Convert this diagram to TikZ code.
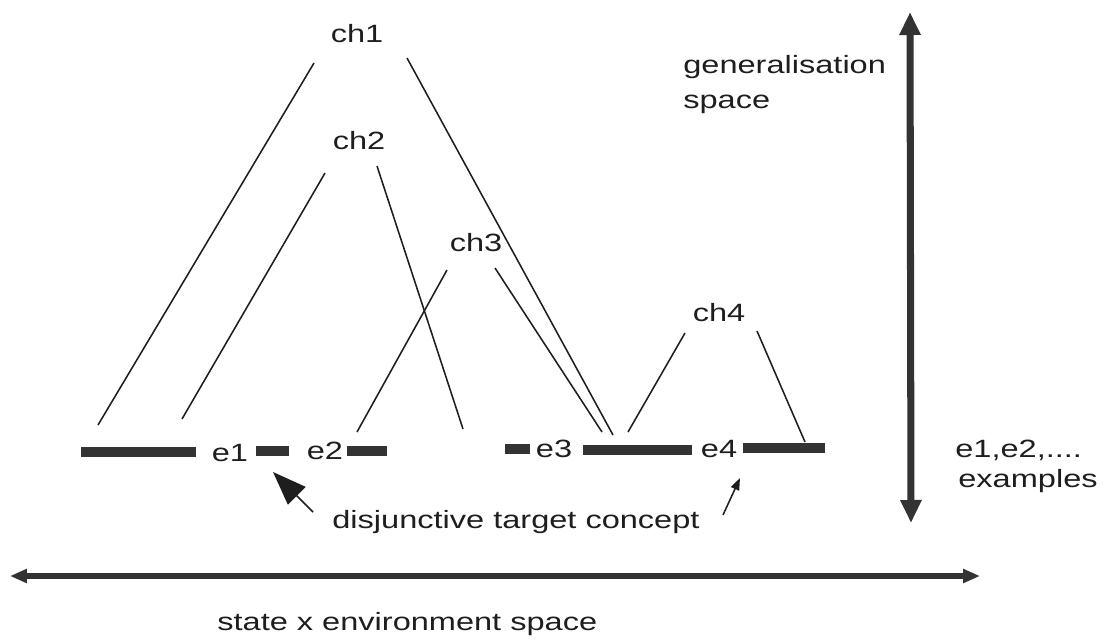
\documentclass[tikz,border=0pt]{standalone}
\usepackage{fontspec}
\setmainfont{Liberation Sans}
\usetikzlibrary{arrows.meta}
\definecolor{ink}{HTML}{1E1E1E}
\definecolor{barc}{HTML}{333333}
\tikzset{
  lbl/.style={inner sep=0pt, text=ink, font=\fontsize{17.8}{21}\selectfont, xscale=1.3},
  bar/.style={line width=0.27cm, barc},
  link/.style={line width=1.1pt, ink},
}

\begin{document}
\begin{tikzpicture}[x=0.025cm, y=-0.025cm]
        \useasboundingbox (0,0) rectangle (1105,640);

        % concept hypotheses
        \node[lbl] (ch1) at (357,34) {ch1};
        \node[lbl] (ch2) at (359,141) {ch2};
        \node[lbl] (ch3) at (476,243) {ch3};
        \node[lbl] (ch4) at (719,313) {ch4};

        % examples along the bottom
        \draw[bar] (81,452) -- (196,452);
        \node[lbl] (e1) at (230,453) {e1};
        \draw[bar] (256,451) -- (289,451);
        \node[lbl] (e2) at (325,451) {e2};
        \draw[bar] (347,451) -- (387,451);
        \draw[bar] (505,449) -- (530,449);
        \node[lbl] (e3) at (554,449) {e3};
        \draw[bar] (583,450) -- (692,450);
        \node[lbl] (e4) at (719,449) {e4};
        \draw[bar] (743,448) -- (825,448);

        % ends of the hypothesis lines
        \coordinate (ch1a) at (314,63);  \coordinate (ch1b) at (98,425);
        \coordinate (ch1c) at (407,58);  \coordinate (ch1d) at (613,435);
        \coordinate (ch2a) at (325,173); \coordinate (ch2b) at (182,419);
        \coordinate (ch2c) at (377,166); \coordinate (ch2d) at (463,429);
        \coordinate (ch3a) at (447,270); \coordinate (ch3b) at (357,432);
        \coordinate (ch3c) at (495,268); \coordinate (ch3d) at (602,432);
        \coordinate (ch4a) at (685,333); \coordinate (ch4b) at (628,432);
        \coordinate (ch4c) at (757,331); \coordinate (ch4d) at (805,442);

        \draw[link] (ch1a) -- (ch1b);
        \draw[link] (ch1c) -- (ch1d);
        \draw[link] (ch2a) -- (ch2b);
        \draw[link] (ch2c) -- (ch2d);
        \draw[link] (ch3a) -- (ch3b);
        \draw[link] (ch3c) -- (ch3d);
        \draw[link] (ch4a) -- (ch4b);
        \draw[link] (ch4c) -- (ch4d);

        % target concept
        \node[lbl, anchor=base west] (dtc) at (332,528) {disjunctive target concept};
        \coordinate (tipA) at (273,472);
        \coordinate (tipB) at (740,478);
        \draw[link, -{Triangle[length=0.84cm, width=0.62cm]}] (313,512) -- (tipA);
        \draw[link, -{Triangle[length=0.3cm, width=0.22cm]}] (723,515) -- (tipB);

        % axes
        \coordinate (gtop) at (910,12);
        \coordinate (gbot) at (911,523);
        \draw[line width=5pt, barc, {Triangle[length=0.575cm, width=0.5cm]}-{Triangle[length=0.575cm, width=0.5cm]}] (gtop) -- (gbot);
        \node[lbl, anchor=base west] (gen) at (683,73) {generalisation};
        \node[lbl, anchor=base west] (genb) at (683,108) {space};
        \node[lbl, anchor=base west] (exa) at (955,457) {e1,e2,....};
        \node[lbl, anchor=base west] (exb) at (958,487) {examples};

        \coordinate (sleft) at (10,576);
        \coordinate (sright) at (980,576);
        \draw[line width=4.5pt, barc, {Triangle[length=0.42cm, width=0.33cm]}-{Triangle[length=0.42cm, width=0.33cm]}] (sleft) -- (sright);
        \node[lbl, anchor=base west] (sxe) at (217,630) {state x environment space};
\end{tikzpicture}
\end{document}
